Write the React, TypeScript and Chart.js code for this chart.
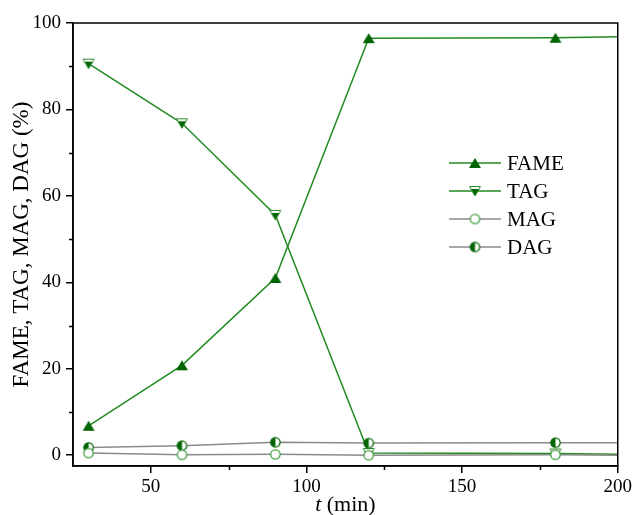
import React, { useEffect, useRef } from "react";
import { Chart, registerables } from "chart.js";

Chart.register(...registerables);

const timeMin = [30, 60, 90, 120, 180, 200];
const fame = [6.8, 20.8, 41.0, 96.5, 96.6, 96.8];
const tag = [90.6, 76.8, 55.6, 0.5, 0.4, 0.2];
const mag = [0.5, 0.1, 0.2, 0.0, 0.1, 0.0];
const dag = [1.8, 2.2, 3.0, 2.8, 2.9, 2.9];
const seriesNames = ["FAME", "TAG", "MAG", "DAG"];
const xMajorTicks = [50, 100, 150, 200];
const xMinorTicks = [75, 125, 175];
const yMajorTicks = [0, 20, 40, 60, 80, 100];
const yMinorTicks = [10, 30, 50, 70, 90];

const DARK = "#006400";
const GREEN_LINE = "#228B22";
const GRAY_LINE = "#8a8a8a";
const SERIF = "'Liberation Serif', 'Times New Roman', serif";

function makeCanvas(w: number, h: number) {
  const c = document.createElement("canvas");
  c.width = w;
  c.height = h;
  return c;
}

function triUp() {
  const c = makeCanvas(14, 12);
  const g = c.getContext("2d")!;
  g.fillStyle = DARK;
  g.beginPath();
  g.moveTo(7, 1);
  g.lineTo(13, 11);
  g.lineTo(1, 11);
  g.closePath();
  g.fill();
  return c;
}

function triDownHalf() {
  const c = makeCanvas(14, 12);
  const g = c.getContext("2d")!;
  g.fillStyle = "#ffffff";
  g.beginPath();
  g.moveTo(1.5, 1.5);
  g.lineTo(12.5, 1.5);
  g.lineTo(7, 11);
  g.closePath();
  g.fill();
  // filled lower part
  g.fillStyle = DARK;
  g.beginPath();
  g.moveTo(2.6, 3.9);
  g.lineTo(11.4, 3.9);
  g.lineTo(7, 11);
  g.closePath();
  g.fill();
  g.strokeStyle = "#2e8b2e";
  g.lineWidth = 1;
  g.beginPath();
  g.moveTo(1.5, 1.5);
  g.lineTo(12.5, 1.5);
  g.lineTo(7, 11);
  g.closePath();
  g.stroke();
  return c;
}

function openCircle() {
  const c = makeCanvas(13, 13);
  const g = c.getContext("2d")!;
  g.fillStyle = "#ffffff";
  g.strokeStyle = "#3a9a3a";
  g.lineWidth = 1.2;
  g.beginPath();
  g.arc(6.5, 6.5, 4.7, 0, Math.PI * 2);
  g.fill();
  g.stroke();
  return c;
}

function halfCircle() {
  const c = makeCanvas(13, 13);
  const g = c.getContext("2d")!;
  g.fillStyle = "#ffffff";
  g.beginPath();
  g.arc(6.5, 6.5, 4.7, 0, Math.PI * 2);
  g.fill();
  g.fillStyle = DARK;
  g.beginPath();
  g.arc(6.5, 6.5, 4.7, Math.PI / 2, Math.PI * 1.5);
  g.closePath();
  g.fill();
  g.strokeStyle = DARK;
  g.lineWidth = 1.2;
  g.beginPath();
  g.arc(6.5, 6.5, 4.7, 0, Math.PI * 2);
  g.stroke();
  return c;
}

export default function App() {
  const ref = useRef<HTMLCanvasElement | null>(null);

  useEffect(() => {
    if (!ref.current) return;
    const markers = [triUp(), triDownHalf(), openCircle(), halfCircle()];
    const lineColors = [GREEN_LINE, GREEN_LINE, GRAY_LINE, GRAY_LINE];
    const values = [fame, tag, mag, dag];
    const lastX = timeMin[timeMin.length - 1];

    // draw order: MAG, DAG, FAME, TAG (green over gray)
    const order = [2, 3, 0, 1];
    const datasets = order.map((i) => ({
      label: seriesNames[i],
      data: timeMin.map((x, k) => ({ x, y: values[i][k] })),
      borderColor: lineColors[i],
      borderWidth: 1.5,
      pointStyle: markers[i] as any,
      pointRadius: (ctx: any) => (ctx.raw && ctx.raw.x === lastX ? 0 : 5),
      pointHoverRadius: 0,
      tension: 0,
      fill: false,
    }));

    const extras = {
      id: "extras",
      afterDatasetsDraw(chart: any) {
        const g = chart.ctx as CanvasRenderingContext2D;
        const a = chart.chartArea;
        const xs = chart.scales.x;
        const ys = chart.scales.y;
        g.save();
        g.strokeStyle = "#000";
        g.lineWidth = 1.5;
        g.strokeRect(a.left, a.top, a.right - a.left, a.bottom - a.top);
        // minor ticks
        g.beginPath();
        xMinorTicks.forEach((v) => {
          const px = Math.round(xs.getPixelForValue(v)) + 0.5;
          g.moveTo(px, a.bottom);
          g.lineTo(px, a.bottom + 4);
        });
        yMinorTicks.forEach((v) => {
          const py = Math.round(ys.getPixelForValue(v)) + 0.5;
          g.moveTo(a.left, py);
          g.lineTo(a.left - 4, py);
        });
        g.stroke();

        // legend
        const ly0 = 163;
        const step = 28;
        seriesNames.forEach((name, i) => {
          const y = ly0 + i * step;
          g.strokeStyle = lineColors[i];
          g.lineWidth = 1.5;
          g.beginPath();
          g.moveTo(449, y);
          g.lineTo(501, y);
          g.stroke();
          const m = markers[i];
          g.drawImage(m, 475 - m.width / 2, y - m.height / 2);
          g.fillStyle = "#000";
          g.font = `21px ${SERIF}`;
          g.textAlign = "left";
          g.textBaseline = "middle";
          g.fillText(name, 507, y + 1);
        });

        // x title with italic t
        g.fillStyle = "#000";
        g.textBaseline = "middle";
        g.font = `italic 22px ${SERIF}`;
        const t = "t";
        const tw = g.measureText(t).width;
        g.font = `22px ${SERIF}`;
        const rest = " (min)";
        const rw = g.measureText(rest).width;
        const cx = (a.left + a.right) / 2;
        const startX = cx - (tw + rw) / 2;
        g.textAlign = "left";
        g.font = `italic 22px ${SERIF}`;
        g.fillText(t, startX, 505);
        g.font = `22px ${SERIF}`;
        g.fillText(rest, startX + tw, 505);
        g.restore();
      },
    };

    const chart = new Chart(ref.current, {
      type: "line",
      data: { datasets: datasets as any },
      plugins: [extras],
      options: {
        animation: false,
        responsive: false,
        devicePixelRatio: 1,
        layout: { padding: { left: 0, right: 14, top: 23, bottom: 0 } },
        plugins: {
          legend: { display: false },
          tooltip: { enabled: false },
        },
        scales: {
          x: {
            type: "linear",
            min: 25,
            max: 200,
            afterBuildTicks: (s: any) => {
              s.ticks = xMajorTicks.map((v) => ({ value: v }));
            },
            afterFit: (s: any) => {
              s.height = 49;
            },
            grid: {
              display: true,
              drawOnChartArea: false,
              drawTicks: true,
              tickLength: 7,
              color: "#000",
              lineWidth: 1.5,
            },
            border: { display: true, color: "#000", width: 1.5 },
            ticks: {
              color: "#000",
              font: { family: SERIF, size: 19 },
              padding: 3,
              maxRotation: 0,
              autoSkip: false,
            },
          },
          y: {
            type: "linear",
            min: -2.5,
            max: 100,
            afterBuildTicks: (s: any) => {
              s.ticks = yMajorTicks.map((v) => ({ value: v }));
            },
            afterFit: (s: any) => {
              s.width = 73;
            },
            grid: {
              display: true,
              drawOnChartArea: false,
              drawTicks: true,
              tickLength: 7,
              color: "#000",
              lineWidth: 1.5,
            },
            border: { display: true, color: "#000", width: 1.5 },
            title: {
              display: true,
              text: "FAME, TAG, MAG, DAG (%)",
              color: "#000",
              font: { family: SERIF, size: 23 },
              padding: { top: 8, bottom: 0 },
            },
            ticks: {
              color: "#000",
              font: { family: SERIF, size: 19 },
              padding: 5,
              autoSkip: false,
            },
          },
        },
      },
    });
    return () => chart.destroy();
  }, []);

  return (
    <div style={{ position: "absolute", left: 0, top: 0, width: 635, height: 515, background: "#fff" }}>
      <canvas ref={ref} width={635} height={515} style={{ width: 635, height: 515, display: "block" }} />
    </div>
  );
}
